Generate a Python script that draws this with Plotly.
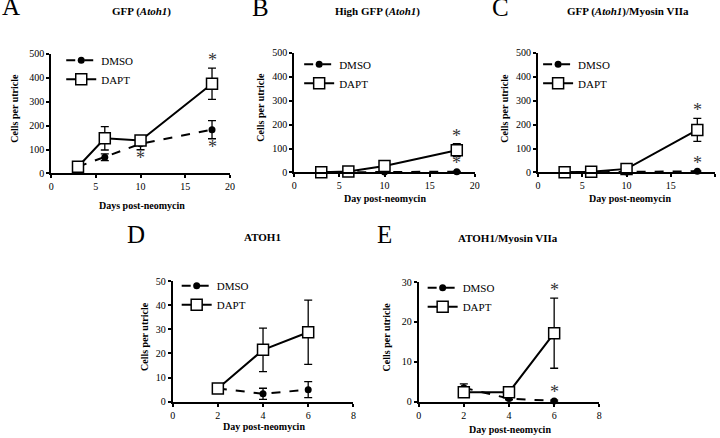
import plotly.graph_objects as go

# ---------------- data ----------------
days_abc = [3, 6, 10, 18]
days_de = [2, 4, 6]

a_dmso = [28, 68, 124, 183]
a_dmso_err = [5, 14, 25, 38]
a_dapt = [28, 147, 138, 375]
a_dapt_err = [6, 49, 15, 65]

b_dmso = [0, 2, 2, 3]
b_dmso_err = [0, 0, 0, 1]
b_dapt = [1, 4, 27, 93]
b_dapt_err = [0, 3, 5, 27]

c_dmso = [0, 1, 2, 5]
c_dmso_err = [0, 0, 0, 2]
c_dapt = [1, 3, 15, 178]
c_dapt_err = [0, 2, 4, 48]

d_dmso = [5.5, 3.3, 5.0]
d_dmso_err = [0.5, 2.3, 3.3]
d_dapt = [5.5, 21.5, 28.8]
d_dapt_err = [0.5, 9.0, 13.3]

e_dmso = [3.5, 0.8, 0.2]
e_dmso_err = [1.0, 0.3, 0.2]
e_dapt = [2.4, 2.4, 17.2]
e_dapt_err = [0.5, 0.3, 8.8]

# significance asterisks: (panel, x, y)
stars = [
    ("A", 18, 470), ("A", 18, 108), ("A", 10, 61),
    ("B", 18, 147), ("B", 18, 37),
    ("C", 18, 258), ("C", 18, 36),
    ("E", 6, 27.7), ("E", 6, 2.3),
]

titles = {
    "A": "<b>GFP (<i>Atoh1</i>)</b>",
    "B": "<b>High GFP (<i>Atoh1</i>)</b>",
    "C": "<b>GFP (<i>Atoh1</i>)/Myosin VIIa</b>",
    "D": "<b>ATOH1</b>",
    "E": "<b>ATOH1/Myosin VIIa</b>",
}
xtitles = {
    "A": "<b>Days post-neomycin</b>",
    "B": "<b>Day post-neomycin</b>",
    "C": "<b>Day post-neomycin</b>",
    "D": "<b>Day post-neomycin</b>",
    "E": "<b>Day post-neomycin</b>",
}

W, H = 720, 438
FONT = "Liberation Serif"

# positions below are measured on the target picture; px/py convert them to
# paper fractions with a small empirical correction for how the page is captured
def px(x):
    v = (x - 2.0) / 0.985
    return min(max(v / W, 0.0), 1.0)

def py(y):
    v = (y - 4.0) / 0.978
    return min(max(1 - v / H, -0.05), 1.05)

# panel layout in target pixels: (left, right, top, bottom)
boxes = {
    "A": (50, 228, 53, 173),
    "B": (292, 472, 52, 172),
    "C": (535, 716, 52, 172),
    "D": (171, 351, 281, 402),
    "E": (416, 596, 282, 402),
}
xranges = {"A": [0, 20], "B": [0, 20], "C": [0, 20], "D": [0, 8], "E": [0, 8]}
yranges = {"A": [0, 500], "B": [0, 500], "C": [0, 500], "D": [0, 50], "E": [0, 30]}
xdt = {"A": 5, "B": 5, "C": 5, "D": 2, "E": 2}
ydt = {"A": 100, "B": 100, "C": 100, "D": 10, "E": 10}

title_pos = {"A": (140, 11), "B": (375, 11), "C": (625, 11), "D": (260, 237), "E": (505, 238)}
letter_pos = {"A": (10, 6), "B": (258, 7), "C": (498, 7), "D": (134, 234), "E": (382, 234)}
xt_pos = {"A": (140, 205), "B": (382, 198), "C": (627, 198), "D": (262, 427), "E": (507, 430)}
yt_x = {"A": 14, "B": 259, "C": 502, "D": 143, "E": 384}
legend_pos = {"A": (60, 45), "B": (297, 49), "C": (535, 49), "D": (175, 271), "E": (420, 273)}

data = {
    "A": (days_abc, a_dmso, a_dmso_err, a_dapt, a_dapt_err),
    "B": (days_abc, b_dmso, b_dmso_err, b_dapt, b_dapt_err),
    "C": (days_abc, c_dmso, c_dmso_err, c_dapt, c_dapt_err),
    "D": (days_de, d_dmso, d_dmso_err, d_dapt, d_dapt_err),
    "E": (days_de, e_dmso, e_dmso_err, e_dapt, e_dapt_err),
}

fig = go.Figure()
layout = dict(
    width=W, height=H, margin=dict(l=0, r=0, t=0, b=0),
    paper_bgcolor="white", plot_bgcolor="white",
    font=dict(family=FONT, color="black", size=10),
    annotations=[],
)

def ann(text, x, y, size, angle=0, **kw):
    layout["annotations"].append(dict(
        text=text, x=px(x), y=py(y), xref="paper", yref="paper",
        xanchor="center", yanchor="middle", textangle=angle,
        showarrow=False, font=dict(family=FONT, size=size, color="black"), **kw))

for i, p in enumerate(["A", "B", "C", "D", "E"]):
    n = "" if i == 0 else str(i + 1)
    xa, ya = "x" + n, "y" + n
    l, r, t, b = boxes[p]
    ax_common = dict(
        showgrid=False, zeroline=False, showline=True, linecolor="black",
        linewidth=2, ticks="outside", ticklen=3, tickwidth=1.5,
        tickcolor="black", tickfont=dict(family=FONT, size=10, color="black"),
    )
    layout["xaxis" + n] = dict(ax_common, domain=[px(l), px(r)], range=xranges[p],
                               dtick=xdt[p], tick0=0, anchor=ya)
    layout["yaxis" + n] = dict(ax_common, domain=[py(b), py(t)], range=yranges[p],
                               dtick=ydt[p], tick0=0, anchor=xa)
    leg = "legend" + n
    lx, ly = legend_pos[p]
    layout[leg] = dict(
        x=px(lx), y=py(ly), xanchor="left", yanchor="top",
        bgcolor="rgba(0,0,0,0)", font=dict(family=FONT, size=11, color="black"),
        itemwidth=30, tracegroupgap=0,
    )
    days, dm, dme, dp, dpe = data[p]
    fig.add_trace(go.Scatter(
        x=days, y=dm, name="DMSO", mode="lines+markers", xaxis=xa, yaxis=ya,
        legend=leg, cliponaxis=False,
        line=dict(color="black", width=2, dash="dash"),
        marker=dict(symbol="circle", size=7, color="black"),
        error_y=dict(type="data", array=dme, color="black", thickness=1.3, width=4),
    ))
    fig.add_trace(go.Scatter(
        x=days, y=dp, name="DAPT", mode="lines+markers", xaxis=xa, yaxis=ya,
        legend=leg, cliponaxis=False,
        line=dict(color="black", width=2),
        marker=dict(symbol="square", size=11, color="white",
                    line=dict(color="black", width=1.5)),
        error_y=dict(type="data", array=dpe, color="black", thickness=1.3, width=4),
    ))
    ann(titles[p], *title_pos[p], 11)
    ann(p, *letter_pos[p], 25)
    ann(xtitles[p], *xt_pos[p], 10)
    ann("<b>Cells per utricle</b>", yt_x[p], (t + b) / 2 - 5, 10, angle=-90)

axis_of = {"A": "", "B": "2", "C": "3", "D": "4", "E": "5"}
for p, sx, sy in stars:
    n = axis_of[p]
    layout["annotations"].append(dict(
        text="*", x=sx, y=sy, xref="x" + n, yref="y" + n, showarrow=False,
        xanchor="center", yanchor="middle", yshift=1,
        font=dict(family=FONT, size=18, color="#333333")))

fig.update_layout(**layout)
fig.write_html(
    "out.html",
    config={"displayModeBar": False},
    post_script="document.body.style.margin='0px';document.body.style.overflow='hidden';",
)
